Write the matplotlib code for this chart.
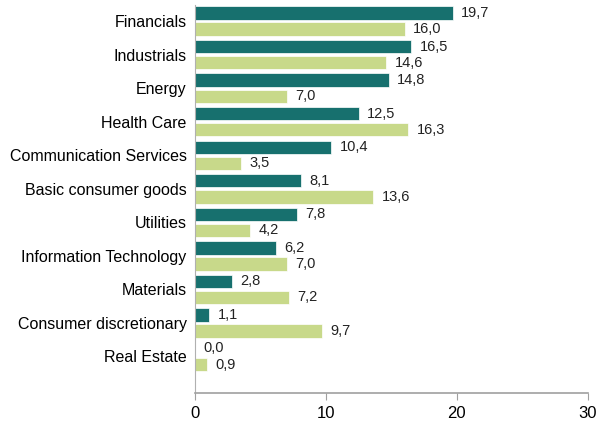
import matplotlib
matplotlib.use('Agg')
import matplotlib.pyplot as plt
import numpy as np

categories = ['Financials', 'Industrials', 'Energy', 'Health Care',
              'Communication Services', 'Basic consumer goods', 'Utilities',
              'Information Technology', 'Materials', 'Consumer discretionary',
              'Real Estate']
series_a = [19.7, 16.5, 14.8, 12.5, 10.4, 8.1, 7.8, 6.2, 2.8, 1.1, 0.0]
series_b = [16.0, 14.6, 7.0, 16.3, 3.5, 13.6, 4.2, 7.0, 7.2, 9.7, 0.9]

plt.rcParams['font.family'] = ['Liberation Sans', 'DejaVu Sans']

fig = plt.figure(figsize=(5.99, 4.21), dpi=100)
ax = fig.add_axes([0.3255, 0.0665, 0.656, 0.9215])

y = np.arange(len(categories))
h = 0.4
off = 0.24
bars_a = ax.barh(y - off, series_a, height=h, color='#17706e', edgecolor='white', linewidth=0.5)
bars_b = ax.barh(y + off, series_b, height=h, color='#c8d98a', edgecolor='white', linewidth=0.5)

for bars, vals in [(bars_a, series_a), (bars_b, series_b)]:
    for b, v in zip(bars, vals):
        ax.annotate(f'{v:.1f}'.replace('.', ','), (v, b.get_y() + b.get_height() / 2),
                    xytext=(6, 0), textcoords='offset points',
                    va='center', ha='left', fontsize=10.5, color='#222222')

ax.set_yticks(y)
ax.set_yticklabels(categories, fontsize=11.5)
ax.tick_params(axis='y', length=0, pad=6)
ax.set_ylim(11.09, -0.48)
ax.set_xlim(0, 30)
ax.set_xticks([0, 10, 20, 30])
ax.tick_params(axis='x', labelsize=12, length=5, color='#a0a0a0', direction='out', pad=4)

for s in ['top', 'right']:
    ax.spines[s].set_visible(False)
ax.spines['left'].set_color('#b0b0b0')
ax.spines['bottom'].set_color('#a0a0a0')
ax.spines['bottom'].set_linewidth(1.2)

plt.savefig('out.png', dpi=100)
